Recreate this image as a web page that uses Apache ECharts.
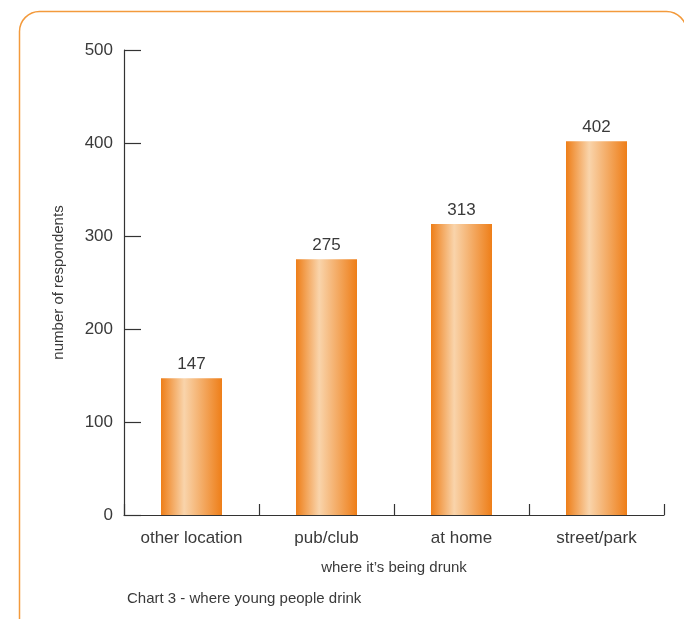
<!DOCTYPE html>
<html>
<head>
<meta charset="utf-8">
<script src="https://cdn.jsdelivr.net/npm/echarts@6/dist/echarts.min.js"></script>
<style>
html,body{margin:0;padding:0;background:#fff;}
#chart{width:684px;height:619px;}
</style>
</head>
<body>
<div id="chart"></div>
<script>
const categories = ['other location', 'pub/club', 'at home', 'street/park'];
const respondents = [147, 275, 313, 402];
const yTicks = [0, 100, 200, 300, 400, 500];

const FONT = '"Liberation Sans", Arial, Helvetica, sans-serif';
const TXT = '#3a3a3a';
const AX = '#333333';

const chart = echarts.init(document.getElementById('chart'));
const barGrad = new echarts.graphic.LinearGradient(0, 0, 1, 0, [
  {offset: 0, color: '#ee7e18'},
  {offset: 0.38, color: '#f9d4ab'},
  {offset: 1, color: '#ee7e18'}
]);

chart.setOption({
  animation: false,
  backgroundColor: '#ffffff',
  grid: {left: 124, right: 20, top: 50, bottom: 104, containLabel: false},
  xAxis: {
    type: 'category',
    data: categories,
    boundaryGap: true,
    name: "where it\u2019s being drunk",
    nameLocation: 'middle',
    nameGap: 45,
    nameTextStyle: {fontFamily: FONT, fontSize: 15, color: TXT},
    axisLine: {lineStyle: {color: AX, width: 1.2}},
    axisTick: {show: true, inside: true, length: 11, alignWithLabel: false, lineStyle: {color: AX, width: 1.2}},
    axisLabel: {fontFamily: FONT, fontSize: 17, color: TXT, margin: 15},
    splitLine: {show: false}
  },
  yAxis: {
    type: 'value',
    min: yTicks[0],
    max: yTicks[yTicks.length - 1],
    interval: 100,
    name: 'number of respondents',
    nameLocation: 'middle',
    nameRotate: 90,
    nameGap: 58,
    nameTextStyle: {fontFamily: FONT, fontSize: 15, color: TXT},
    axisLine: {show: true, lineStyle: {color: AX, width: 1.2}},
    axisTick: {show: true, inside: true, length: 17, lineStyle: {color: AX, width: 1.2}},
    axisLabel: {fontFamily: FONT, fontSize: 17, color: TXT, margin: 11},
    splitLine: {show: false}
  },
  series: [{
    type: 'bar',
    data: respondents,
    barWidth: 61,
    itemStyle: {color: barGrad},
    label: {
      show: true,
      position: 'top',
      distance: 5,
      fontFamily: FONT,
      fontSize: 17,
      color: TXT
    }
  }],
  graphic: [
    {
      type: 'rect',
      shape: {x: 19.5, y: 11.5, width: 667, height: 660, r: 20},
      style: {fill: 'none', stroke: '#f39a3c', lineWidth: 1.5},
      silent: true,
      z: -1
    },
    {
      type: 'text',
      left: 127,
      top: 591,
      style: {
        text: 'Chart 3 - where young people drink',
        fontFamily: FONT,
        fontSize: 15,
        fill: TXT
      }
    }
  ]
});
</script>
</body>
</html>
